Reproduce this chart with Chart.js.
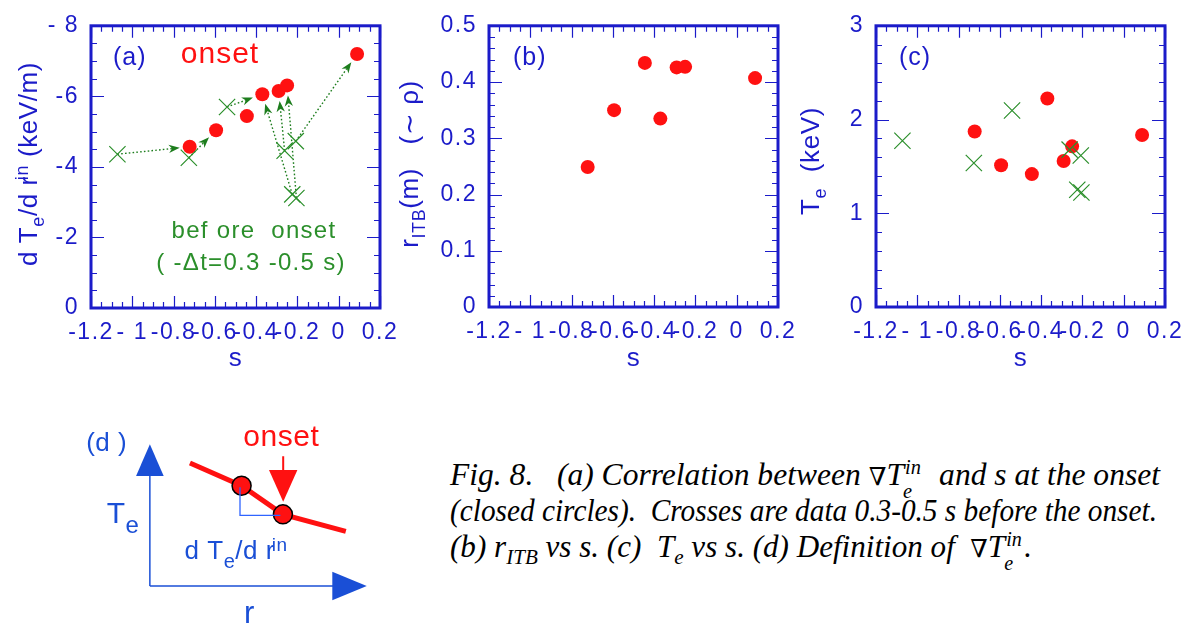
<!DOCTYPE html>
<html>
<head>
<meta charset="utf-8">
<title>Fig. 8</title>
<script src="https://cdn.jsdelivr.net/npm/chart.js@4.4.1/dist/chart.umd.min.js"></script>
<style>
html,body{margin:0;padding:0;background:#fff;}
body{width:1197px;height:636px;position:relative;overflow:hidden;}
canvas{position:absolute;top:0;}
#caption{position:absolute;left:450px;top:0;font-family:'Liberation Serif','Times New Roman',serif;font-style:italic;color:#000;font-size:31px;}
#caption .ln{position:absolute;left:0;white-space:pre;transform-origin:0 0;line-height:30px;}
.nb{font-family:'DejaVu Serif',serif;font-style:normal;font-weight:normal;font-size:25px;}
.st{display:inline-block;position:relative;width:19px;height:0;}
.sp,.sb{position:absolute;font-size:20px;line-height:20px;}
.sp{top:-28px;left:1px;}
.sb{top:-4px;left:-1px;}
.sub{position:relative;top:7px;font-size:21px;line-height:0;}
</style>
</head>
<body>
<canvas id="ca" width="410" height="380" style="left:0px"></canvas>
<canvas id="cb" width="420" height="380" style="left:390px"></canvas>
<canvas id="cc" width="412" height="380" style="left:785px"></canvas>
<canvas id="cd" width="360" height="236" style="left:60px;top:400px"></canvas>
<div id="caption">
<div class="ln" id="l1" style="top:460px" data-w="710">Fig. 8.   (a) Correlation between <span class="nb">∇</span>T<span class="st"><span class="sp">in</span><span class="sb">e</span></span>  and s at the onset</div>
<div class="ln" id="l2" style="top:496px" data-w="707">(closed circles).  Crosses are data 0.3-0.5 s before the onset.</div>
<div class="ln" id="l3" style="top:532px" data-w="582">(b) r<span class="sub">ITB</span> vs s. (c)  T<span class="sub">e</span> vs s. (d) Definition of  <span class="nb">∇</span>T<span class="st"><span class="sp">in</span><span class="sb">e</span></span>.</div>
</div>
<script>
const FONT = "'Liberation Sans', Arial, Helvetica, sans-serif";
const BLUE = '#1b1bc9';
const RED = '#ff1111';
const GREEN = '#2b8f2b';
const DGREEN = '#1d7d1d';
const DBLUE = '#1a4fd6';
const LBLUE = '#2f64ff';

// ---------- data ----------
const sOnset     = [-0.722, -0.594, -0.445, -0.370, -0.291, -0.250, 0.089];
const sBefore    = [-1.072, -0.726, -0.541, -0.262, -0.208, -0.225, -0.205];
const gradOnset  = [-4.57, -5.04, -5.44, -6.06, -6.15, -6.31, -7.20];
const gradBefore = [-4.36, -4.26, -5.70, -4.46, -4.73, -3.22, -3.12];
const rItbOnset  = [0.249, 0.350, 0.434, 0.335, 0.426, 0.427, 0.407];
const teOnset    = [1.873, 1.512, 1.418, 2.225, 1.557, 1.714, 1.835];
const teBefore   = [1.773, 1.536, 2.096, 1.679, 1.616, 1.251, 1.222];
// arrows: [index in "before", index in "onset"]
const arrowPairs = [[0,0],[1,1],[2,3],[5,3],[3,4],[6,5],[4,6]];

// ticks
const xTickValues = [-1.2,-1,-0.8,-0.6,-0.4,-0.2,0,0.2];
const xTickLabels = ['-1.2','- 1','-0.8','-0.6','-0.4','-0.2','0','0.2'];
const xMinorStep = 0.05, xMajorStep = 0.2;
const yTicksA = [-8,-6,-4,-2,0];
const yLabelsA = ['- 8','-6','-4','-2','0'];
const yMinorA = 0.5;
const yTicksB = [0,0.1,0.2,0.3,0.4,0.5];
const yLabelsB = ['0','0.1','0.2','0.3','0.4','0.5'];
const yMinorB = 0.02;
const yTicksC = [0,1,2,3];
const yLabelsC = ['0','1','2','3'];
const yMinorC = 0.2;

// schematic (d), arbitrary units
const dAxisX   = [{x:0,y:0},{x:19.6,y:0}];
const dAxisY   = [{x:0,y:0},{x:0,y:12.3}];
const dProfile = [{x:4.27,y:13.57},{x:9.77,y:11.07},{x:14.17,y:7.9},{x:20.87,y:6.03}];
const dMarks   = [{x:9.77,y:11.07},{x:14.17,y:7.9}];
const dBracket = [{x:9.6,y:10.9},{x:9.6,y:7.8},{x:13.9,y:7.8}];
const dOnsetStem = [{x:14.2,y:14.3},{x:14.2,y:12.6}];
const dHeads = [
  {tip:[0,15.63], base:[0,12.13], half:1.38, c:'blue'},
  {tip:[23.1,0],  base:[19.43,0], half:1.42, c:'blue'},
  {tip:[14.2,9.3],base:[14.2,12.8],half:1.42, c:'red'}
];

function pts(xs, ys){ return xs.map((x,i)=>({x:x, y:ys[i]})); }

function drawRich(ctx, parts, x, y, align, color, spacing){
  ctx.save();
  ctx.fillStyle = color;
  ctx.textBaseline = 'alphabetic';
  ctx.textAlign = 'left';
  ctx.letterSpacing = (spacing||0) + 'px';
  let w = 0;
  const ws = parts.map(p=>{ ctx.font = p[1]+'px '+FONT; const m = ctx.measureText(p[0]).width + (p[3]||0); w += m; return m; });
  let cx = align==='center' ? x - w/2 : (align==='right' ? x - w : x);
  parts.forEach((p,i)=>{
    ctx.font = p[1]+'px '+FONT;
    ctx.fillText(p[0], cx + (p[3]||0), y + (p[2]||0));
    cx += ws[i];
  });
  ctx.restore();
}
function drawRotated(ctx, parts, x, y, color, spacing){
  ctx.save();
  ctx.translate(x, y);
  ctx.rotate(-Math.PI/2);
  drawRich(ctx, parts, 0, 0, 'center', color, spacing);
  ctx.restore();
}
function drawArrow(ctx, x0, y0, x1, y1, stop){
  const dx = x1-x0, dy = y1-y0, L = Math.hypot(dx,dy);
  const ux = dx/L, uy = dy/L;
  const tx = x1 - ux*stop, ty = y1 - uy*stop;
  const hl = 11, hw = 4.2;
  const bx = tx - ux*hl, by = ty - uy*hl;
  ctx.strokeStyle = DGREEN; ctx.fillStyle = DGREEN;
  ctx.lineWidth = 1.4;
  ctx.setLineDash([1.6,2.2]);
  ctx.beginPath(); ctx.moveTo(x0,y0); ctx.lineTo(tx - ux*hl*0.7, ty - uy*hl*0.7); ctx.stroke();
  ctx.setLineDash([]);
  ctx.beginPath();
  ctx.moveTo(tx,ty);
  ctx.lineTo(bx - uy*hw, by + ux*hw);
  ctx.lineTo(tx - ux*hl*0.7, ty - uy*hl*0.7);
  ctx.lineTo(bx + uy*hw, by - ux*hw);
  ctx.closePath(); ctx.fill();
}

function framePlugin(yTicks, yMinor){
  return {
    id:'frame',
    beforeDraw(chart){ chart.ctx.letterSpacing = '1.5px'; },
    afterDraw(chart){
      const ctx = chart.ctx, a = chart.chartArea, x = chart.scales.x, y = chart.scales.y;
      ctx.save();
      ctx.letterSpacing = '0px';
      ctx.strokeStyle = BLUE; ctx.lineWidth = 1.2;
      ctx.beginPath();
      const nX = Math.round((x.max-x.min)/xMinorStep);
      for(let i=0;i<=nX;i++){
        const v = x.min + i*xMinorStep;
        const r = v/xMajorStep;
        const major = Math.abs(r-Math.round(r))<1e-6;
        const len = major?12:6;
        const px = Math.round(x.getPixelForValue(v))+0.5;
        ctx.moveTo(px,a.bottom); ctx.lineTo(px,a.bottom-len);
        ctx.moveTo(px,a.top); ctx.lineTo(px,a.top+len);
      }
      const lo = Math.min(y.min,y.max), hi = Math.max(y.min,y.max);
      const nY = Math.round((hi-lo)/yMinor);
      for(let i=0;i<=nY;i++){
        const v = lo + i*yMinor;
        const major = yTicks.some(t=>Math.abs(t-v)<1e-6);
        const len = major?13:6;
        const py = Math.round(y.getPixelForValue(v))+0.5;
        ctx.moveTo(a.left,py); ctx.lineTo(a.left+len,py);
        ctx.moveTo(a.right,py); ctx.lineTo(a.right-len,py);
      }
      ctx.stroke();
      ctx.lineWidth = 3;
      ctx.strokeRect(a.left,a.top,a.right-a.left,a.bottom-a.top);
      ctx.restore();
    }
  };
}

function makePanel(id, o){
  const c = document.getElementById(id);
  const cl = o.canvasLeft;
  return new Chart(c, {
    type:'scatter',
    data:{datasets:o.datasets},
    options:{
      responsive:false, animation:false, devicePixelRatio:1, events:[],
      layout:{padding:{left:0, right:c.width-(o.right-cl), top:o.top, bottom:0}},
      plugins:{legend:{display:false}, tooltip:{enabled:false}},
      scales:{
        x:{type:'linear', position:'bottom', min:-1.2, max:0.2,
           afterBuildTicks(s){ s.ticks = xTickValues.map(v=>({value:v})); },
           afterFit(s){ s.height = c.height - o.bottom; },
           grid:{display:false, drawTicks:false}, border:{display:false},
           ticks:{autoSkip:false, maxRotation:0, minRotation:0, padding:11, color:BLUE,
                  font:{family:FONT, size:23}, callback:(v,i)=>xTickLabels[i]}},
        y:{type:'linear', position:'left', min:o.yMin, max:o.yMax, reverse:!!o.reverse,
           afterBuildTicks(s){ s.ticks = o.yTicks.map(v=>({value:v})); },
           afterFit(s){ s.width = o.left - cl; },
           grid:{display:false, drawTicks:false}, border:{display:false},
           ticks:{padding:12, color:BLUE, font:{family:FONT, size:23}, callback:(v,i)=>o.yLabels[i]}}
      }
    },
    plugins:[framePlugin(o.yTicks, o.yMinor), {
      id:'ann',
      beforeDatasetsDraw(chart){ if(o.under) o.under(chart); },
      afterDraw(chart){
        const ctx = chart.ctx, a = chart.chartArea;
        drawRich(ctx, [['s',26]], (a.left+a.right)/2, 366, 'center', BLUE, 0.5);
        drawRotated(ctx, o.yTitle, o.yTitleX - cl, o.yTitleY, BLUE, 0.6);
        drawRich(ctx, [[o.tag,25]], o.tagX - cl, 65, 'left', BLUE, 1);
        if(o.over) o.over(chart);
      }
    }]
  });
}

const crossStyle = {pointStyle:'crossRot', pointRadius:11.5, borderColor:GREEN, borderWidth:1.2, backgroundColor:'rgba(0,0,0,0)'};
const dotStyle = {pointStyle:'circle', pointRadius:7, backgroundColor:RED, borderColor:RED, borderWidth:0};

makePanel('ca', {
  canvasLeft:0, left:91, right:380, top:21, bottom:308,
  yMin:-8, yMax:0, reverse:true, yTicks:yTicksA, yLabels:yLabelsA, yMinor:yMinorA,
  datasets:[
    Object.assign({label:'before onset', data:pts(sBefore, gradBefore)}, crossStyle),
    Object.assign({label:'onset', data:pts(sOnset, gradOnset)}, dotStyle)
  ],
  yTitle:[['d T',26],['e',18,7],['/d r',26],['in',18,-9,-4],[' (keV/m)',26]],
  yTitleX:37, yTitleY:164, tag:'(a)', tagX:113,
  under(chart){
    const ctx = chart.ctx, x = chart.scales.x, y = chart.scales.y;
    ctx.save();
    arrowPairs.forEach(p=>{
      drawArrow(ctx, x.getPixelForValue(sBefore[p[0]]), y.getPixelForValue(gradBefore[p[0]]),
                     x.getPixelForValue(sOnset[p[1]]), y.getPixelForValue(gradOnset[p[1]]), 10);
    });
    ctx.restore();
  },
  over(chart){
    const ctx = chart.ctx;
    drawRich(ctx, [['onset',30]], 220, 63, 'center', RED, 1);
    drawRich(ctx, [['bef ore  onset',24]], 254, 238, 'center', GREEN, 1.3);
    drawRich(ctx, [['( -\u0394t=0.3 -0.5 s)',24]], 251, 270, 'center', GREEN, 1.3);
  }
});

makePanel('cb', {
  canvasLeft:390, left:489, right:778, top:19, bottom:307,
  yMin:0, yMax:0.5, yTicks:yTicksB, yLabels:yLabelsB, yMinor:yMinorB,
  datasets:[ Object.assign({label:'r_ITB', data:pts(sOnset, rItbOnset)}, dotStyle) ],
  yTitle:[['r',26],['ITB',18,7],['(m)   (\u223C \u03C1)',26]],
  yTitleX:418, yTitleY:164, tag:'(b)', tagX:513
});

makePanel('cc', {
  canvasLeft:785, left:876, right:1165, top:19, bottom:307,
  yMin:0, yMax:3, yTicks:yTicksC, yLabels:yLabelsC, yMinor:yMinorC,
  datasets:[
    Object.assign({label:'before onset', data:pts(sBefore, teBefore)}, crossStyle),
    Object.assign({label:'onset', data:pts(sOnset, teOnset)}, dotStyle)
  ],
  yTitle:[['T',26],['e',18,7],['  (keV)',26]],
  yTitleX:819, yTitleY:161, tag:'(c)', tagX:899
});

// ---------- (d) schematic ----------
const dText = [
  {parts:[['(d )',26]], at:{x:-4.6,y:14.9}, align:'center', c:'blue'},
  {parts:[['onset',30]], at:{x:14.0,y:15.45}, align:'center', c:'red'},
  {parts:[['T',30],['e',24,10]], at:{x:-4.6,y:6.97}, align:'left', c:'blue'},
  {parts:[['r',31]], at:{x:10.6,y:-4.1}, align:'center', c:'blue'},
  {parts:[['d T',26],['e',20,9],['/d r',26],['in',19,-8,-3]], at:{x:3.7,y:2.97}, align:'left', c:'blue'}
];
new Chart(document.getElementById('cd'), {
  type:'scatter',
  data:{datasets:[
    {data:dBracket, showLine:true, borderColor:LBLUE, borderWidth:1.3, pointRadius:0},
    {data:dMarks, pointRadius:9.5, backgroundColor:RED, borderColor:'#000', borderWidth:1.5},
    {data:dProfile, showLine:true, borderColor:RED, borderWidth:5, pointRadius:0},
    {data:dOnsetStem, showLine:true, borderColor:RED, borderWidth:2, pointRadius:0},
    {data:dAxisX, showLine:true, borderColor:DBLUE, borderWidth:1.5, pointRadius:0},
    {data:dAxisY, showLine:true, borderColor:DBLUE, borderWidth:1.5, pointRadius:0}
  ]},
  options:{
    responsive:false, animation:false, devicePixelRatio:1, events:[],
    layout:{padding:0},
    plugins:{legend:{display:false}, tooltip:{enabled:false}},
    scales:{
      x:{type:'linear', display:false, min:-8.4, max:27.6},
      y:{type:'linear', display:false, min:-4.3, max:19.3}
    }
  },
  plugins:[{
    id:'schem',
    afterDatasetsDraw(chart){
      const ctx = chart.ctx, x = chart.scales.x, y = chart.scales.y;
      ctx.save();
      dHeads.forEach(h=>{
        const tx = x.getPixelForValue(h.tip[0]), ty = y.getPixelForValue(h.tip[1]);
        const bx = x.getPixelForValue(h.base[0]), by = y.getPixelForValue(h.base[1]);
        const L = Math.hypot(tx-bx, ty-by), ux = (tx-bx)/L, uy = (ty-by)/L;
        const hw = h.half*10;
        ctx.fillStyle = h.c==='red'?RED:DBLUE;
        ctx.beginPath();
        ctx.moveTo(tx,ty);
        ctx.lineTo(bx - uy*hw, by + ux*hw);
        ctx.lineTo(bx + uy*hw, by - ux*hw);
        ctx.closePath(); ctx.fill();
      });
      ctx.restore();
      dText.forEach(t=>{
        drawRich(ctx, t.parts, x.getPixelForValue(t.at.x), y.getPixelForValue(t.at.y), t.align, t.c==='red'?RED:DBLUE, 0.5);
      });
    }
  }]
});

// ---------- caption width fit ----------
(function(){
  const lines = Array.from(document.querySelectorAll('#caption .ln'));
  lines.forEach(l=>{
    const w = l.getBoundingClientRect().width;
    const k = parseFloat(l.getAttribute('data-w')) / w;
    l.style.transform = 'scaleX(' + k + ')';
  });
})();
</script>
</body>
</html>
